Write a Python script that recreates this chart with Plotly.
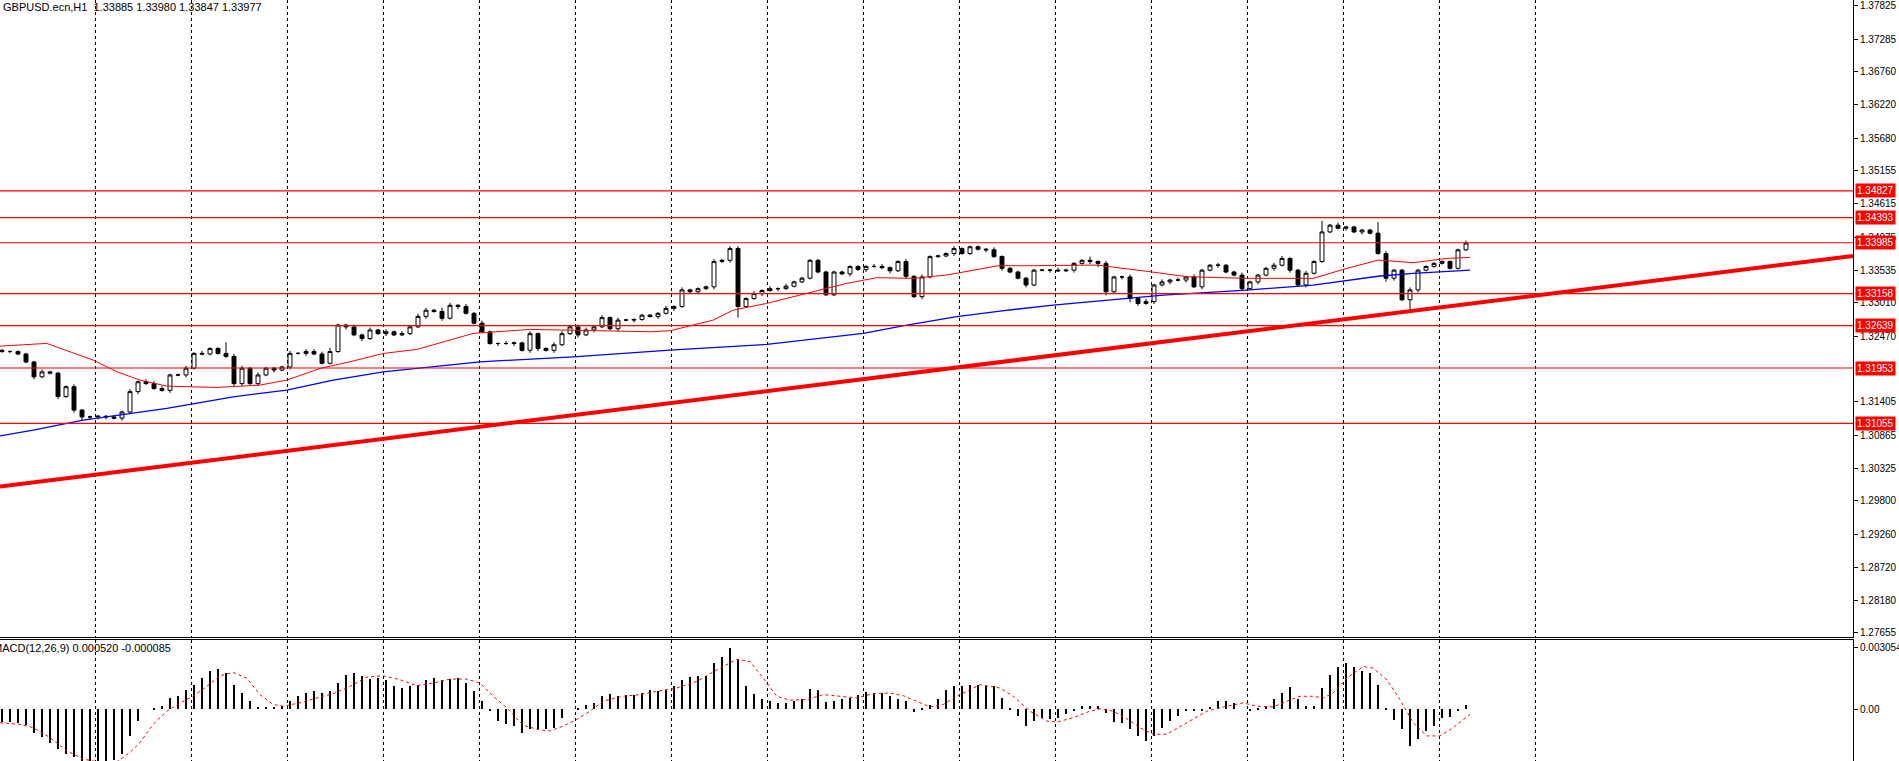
import plotly.graph_objects as go

# 2-hour sampled bars, hour index of each bar = 2*i
closes = [
    1.3222, 1.3222, 1.3218, 1.3205, 1.3181, 1.3189, 1.3187, 1.3149, 1.3165, 1.3127,
    1.3116, 1.3116, 1.3117, 1.3116, 1.3114, 1.3124, 1.3157, 1.3173, 1.3170, 1.3162,
    1.3159, 1.3184, 1.3184, 1.3195, 1.3219, 1.3218, 1.3227, 1.3219, 1.3214, 1.3170,
    1.3195, 1.3170, 1.3184, 1.3195, 1.3192, 1.3197, 1.3219, 1.3219, 1.3222, 1.3218,
    1.3203, 1.3222, 1.3265, 1.3262, 1.3249, 1.3243, 1.3257, 1.3251, 1.3254, 1.3249,
    1.3251, 1.3262, 1.3279, 1.3289, 1.3287, 1.3276, 1.3297, 1.3295, 1.3284, 1.3268,
    1.3254, 1.3235, 1.3235,
    1.3235, 1.3236, 1.3224, 1.3251, 1.3227, 1.3224, 1.3233, 1.3251, 1.3262, 1.3249,
    1.3257, 1.3262, 1.3277, 1.3259, 1.3273, 1.3273, 1.3274, 1.3281, 1.3279, 1.3284,
    1.3292, 1.3295, 1.3322, 1.3319, 1.3324, 1.3327, 1.3368, 1.3370, 1.3389, 1.3295,
    1.3308, 1.3316, 1.3321, 1.3324, 1.3324, 1.3328, 1.3335, 1.3341, 1.3370, 1.3351,
    1.3314, 1.3351, 1.3348, 1.3360, 1.3355, 1.3360, 1.3360, 1.3358, 1.3353, 1.3368,
    1.3344, 1.3311, 1.3343, 1.3376, 1.3377, 1.3381, 1.3389, 1.3381, 1.3392, 1.3388,
    1.3387, 1.3376,
    1.3357, 1.3351, 1.3341, 1.3330, 1.3354, 1.3354, 1.3354, 1.3353, 1.3354, 1.3365,
    1.3370, 1.3368, 1.3365, 1.3319, 1.3343, 1.3343, 1.3308, 1.3300, 1.3303, 1.3330,
    1.3335, 1.3338, 1.3338, 1.3343, 1.3327, 1.3354, 1.3362, 1.3362, 1.3351, 1.3346,
    1.3324, 1.3335, 1.3346, 1.3357, 1.3362, 1.3373, 1.3354, 1.3330, 1.3349, 1.3368,
    1.3416, 1.3427, 1.3422, 1.3424, 1.3416, 1.3419, 1.3414, 1.3381, 1.3341, 1.3354,
    1.3306, 1.3322, 1.3354, 1.3360, 1.3365, 1.3368, 1.3357, 1.3387, 1.3398,
]
first_open = 1.3224
# wick lengths in units of 2 pips
up_wick = ("1111121112" "1111112122" "2112121192" "2121112122" "2311212121"
           "2122132121" "2112112112" "2122121211" "1112121112" "1221212121"
           "1111111112" "2112121112" "1111211111" "1121113121" "1212121212"
           "1121121112" "2112191211" "1192112111" "1112")
dn_wick = ("1111211212" "3222121211" "1212111112" "2121212121" "1112121121"
           "1112121211" "1121212212" "1121211212" "1121211112" "1291121211"
           "1111112121" "1212121112" "1112121121" "1211212331" "2321212121"
           "2121121212" "1212111121" "2113218211" "1111")

ma_red_x = [-0.5, 11.2, 22.8, 28.7, 34.5, 41.2, 53.7, 64.5, 71.2, 79.5, 87, 95.3, 103.7, 110.3,
            117.8, 132, 142.8, 162, 167, 177.8, 182.8, 191.2, 202.8, 211.2, 218.7, 227.8, 236.2,
            249, 257, 273.7, 287, 296.2, 311.2, 327.8, 336.2, 344.1, 352.8, 361.2, 367]
ma_red_y = [1.32308, 1.32352, 1.32081, 1.31892, 1.31757, 1.31659, 1.31638, 1.31676, 1.31757,
            1.31946, 1.32054, 1.32189, 1.32254, 1.32379, 1.32514, 1.32579, 1.32568, 1.32541,
            1.32557, 1.32730, 1.32893, 1.33001, 1.33190, 1.33326, 1.33418, 1.33407, 1.33461,
            1.33612, 1.33612, 1.33623, 1.33515, 1.33434, 1.33407, 1.33407, 1.33569, 1.33704,
            1.33661, 1.33731, 1.33747]
ma_blue_x = [-0.5, 7.8, 20.3, 41.2, 57.8, 71.2, 82.8, 95.3, 103.7, 119.5, 142.8, 167, 191.2,
             215.3, 226.2, 238.7, 249.5, 262.8, 290.3, 311.2, 327.8, 344.5, 352.8, 367]
ma_blue_y = [1.30853, 1.30945, 1.31108, 1.31297, 1.31486, 1.31594, 1.31757, 1.31892, 1.31946,
             1.32054, 1.32135, 1.32244, 1.32336, 1.32514, 1.32649, 1.32785, 1.32877, 1.32974,
             1.33136, 1.33217, 1.33298, 1.33445, 1.33488, 1.33542]

trend_x = [-0.5, 462.75]
trend_y = [1.3003, 1.3377]
levels = [1.34827, 1.34393, 1.33985, 1.33158, 1.32639, 1.31953, 1.31055]
price_ticks = [1.37825, 1.37285, 1.36760, 1.36220, 1.35680, 1.35155, 1.34615, 1.34075,
               1.33535, 1.33010, 1.32470, 1.31405, 1.30865, 1.30325, 1.29800, 1.29260,
               1.28720, 1.28180, 1.27655]
# day separators (hour index)
day_lines = [23.25 + 24 * k for k in range(16)]

# MACD histogram, units of 1e-5
macd_hist = [
    -61, -61, -68, -78, -113, -137, -162, -194, -218, -234, -267, -267, -267, -267, -246, -218,
    -129, -57, 0, 8, 16, 57, 65, 97, 121, 154, 186, 197, 178, 121, 81, 40, 13, 11, 11, 16, 40,
    65, 81, 89, 81, 89, 129, 170, 181, 162, 149, 154, 146, 113, 105, 113, 121, 146, 154, 142,
    149, 154, 129, 89, 40, -8, -57,
    -73, -81, -113, -97, -97, -97, -89, -40, 0, 8, 24, 32, 65, 78, 65, 73, 73, 81, 94, 89, 94,
    113, 146, 158, 165, 165, 226, 259, 299, 243, 116, 78, 52, 40, 32, 32, 40, 49, 100, 94, 36,
    40, 49, 57, 73, 84, 81, 81, 65, 52, 40, -13, 3, 24, 49, 97, 113, 113, 121, 121, 113,
    113, 57, 3, -32, -81, -57, -40, -45, -40, -24, -3, 16, 16, 16, -19, -61, -65, -97, -129,
    -154, -129, -89, -57, -32, -3, -3, -8, 13, 40, 40, 32, 0, -3, 3, 16, 52, 81, 110, 49, 16,
    16, 105, 170, 210, 226, 210, 186, 178, 121, 8, -49, -97, -178, -146, -105, -81, -40, -36,
    -8, 24,
]
signal_x = [-0.5, 4.5, 7.8, 12, 16.2, 20.3, 24.5, 28.7, 32, 34.5, 37.8, 41.2, 44.5, 47.8, 51.2,
            54.5, 57.8, 61.2, 64.5, 67.8, 70.3, 74.5, 78.7, 82.8, 87, 91.2, 95.3, 99.5, 103.7,
            107.8, 112, 116.2, 119.5, 122.8, 126.2, 130.3, 134.5, 137, 140.3, 143.7, 147, 150.3,
            155.3, 159.5, 163.7, 168.7, 173.7, 178.7, 183.7, 187, 190.3, 193.7, 197, 201.2,
            205.3, 209.5, 213.7, 217.8, 222, 225.3, 228.7, 232, 235.3, 238.7, 242.8, 244.5,
            249.5, 252.8, 257, 261.2, 263.7, 267.8, 272, 274.5, 277.8, 281.2, 284.5, 287.8,
            291.2, 296.2, 301.2, 306.2, 310.3, 313.7, 317.8, 321.2, 324.5, 327.8, 330.3, 332.8,
            336.2, 340.3, 342.8, 346.2, 349.5, 352.8, 356.2, 359.5, 362.8, 367]
signal_y = [-64.7, -72.8, -88.9, -137.4, -202, -242.6, -258.7, -255.5, -210.2, -161.7, -72.8,
            -8.1, 32.3, 64.7, 113.2, 164.9, 181.1, 153.6, 72.8, 24.3, 16.2, 32.3, 56.6, 77.6,
            113.2, 158.5, 164.9, 145.5, 116.4, 129.4, 148.8, 148.8, 129.4, 64.7, 8.1, -77.6,
            -100.3, -105.1, -80.9, -48.5, -8.1, 40.4, 64.7, 72.8, 88.9, 105.1, 137.4, 194,
            245.8, 234.5, 153.6, 64.7, 45.3, 48.5, 72.8, 64.7, 56.6, 77.6, 80.9, 67.9, 40.4,
            12.9, 24.3, 64.7, 105.1, 121.3, 105.1, 64.7, -8.1, -56.6, -61.4, -40.4, -8.1, 3.2,
            -8.1, -45.3, -88.9, -121.3, -121.3, -64.7, -8.1, 16.2, 32.3, 16.2, 12.9, 40.4,
            64.7, 64.7, 56.6, 80.9, 153.6, 210.2, 202.1, 145.5, 48.5, -64.7, -129.4, -129.4,
            -88.9, -24.3]

hours = [2 * i for i in range(len(closes))]
opens = [first_open] + closes[:-1]
highs = [max(o, c) + int(w) * 0.0002 for o, c, w in zip(opens, closes, up_wick)]
lows = [min(o, c) - int(w) * 0.0002 for o, c, w in zip(opens, closes, dn_wick)]

FONT = "Liberation Sans"
W, H = 1899, 761
fig = go.Figure()

fig.add_trace(go.Candlestick(
    x=hours, open=opens, high=highs, low=lows, close=closes,
    increasing=dict(line=dict(color="black", width=1), fillcolor="white"),
    decreasing=dict(line=dict(color="black", width=1), fillcolor="black"),
    whiskerwidth=0, xaxis="x", yaxis="y", showlegend=False, hoverinfo="skip"))
fig.add_trace(go.Scatter(x=ma_red_x, y=ma_red_y, mode="lines", line=dict(color="red", width=1),
                         xaxis="x", yaxis="y", showlegend=False))
fig.add_trace(go.Scatter(x=ma_blue_x, y=ma_blue_y, mode="lines", line=dict(color="blue", width=1.3),
                         xaxis="x", yaxis="y", showlegend=False))
fig.add_trace(go.Scatter(x=trend_x, y=trend_y, mode="lines", line=dict(color="red", width=4),
                         xaxis="x", yaxis="y", showlegend=False))

fig.add_trace(go.Bar(x=hours, y=[v * 1e-5 for v in macd_hist], width=0.45,
                     marker=dict(color="black", line=dict(width=0)),
                     xaxis="x2", yaxis="y2", showlegend=False))
fig.add_trace(go.Scatter(x=signal_x, y=[v * 1e-5 for v in signal_y], mode="lines",
                         line=dict(color="red", width=1, dash="dot"),
                         xaxis="x2", yaxis="y2", showlegend=False))

for lv in levels:
    fig.add_shape(type="line", xref="paper", x0=0, x1=1, yref="y", y0=lv, y1=lv,
                  line=dict(color="red", width=1.2))

annotations = []
for lv in levels:
    annotations.append(dict(x=1, xref="paper", y=lv, yref="y", text=f"{lv:.5f}", showarrow=False,
                            xanchor="left", yanchor="middle", xshift=2, bgcolor="#ff0000",
                            borderpad=1, font=dict(color="white", size=10, family=FONT)))
annotations.append(dict(x=0, xref="paper", y=1, yref="paper", xanchor="left", yanchor="top",
                        text="GBPUSD.ecn,H1&nbsp;&nbsp;1.33885 1.33980 1.33847 1.33977",
                        showarrow=False, xshift=1, yshift=1, font=dict(size=11, color="black", family=FONT)))
annotations.append(dict(x=0, xref="paper", y=0.159, yref="paper", xanchor="left", yanchor="top",
                        text="MACD(12,26,9) 0.000520 -0.000085", showarrow=False, xshift=-9,
                        font=dict(size=11, color="black", family=FONT)))

xgrid = dict(range=[-0.5, 462.75], showgrid=True, gridcolor="black", griddash="3px,3px", gridwidth=1,
             tickvals=day_lines, showticklabels=False, ticks="", zeroline=False,
             rangeslider=dict(visible=False), fixedrange=True, automargin=False)
ycommon = dict(side="right", ticks="outside", ticklen=4, tickcolor="black", showgrid=False,
               zeroline=False, showline=True, linecolor="black", linewidth=1, automargin=False,
               tickfont=dict(size=10, family=FONT))

fig.update_layout(
    width=W, height=H, margin=dict(l=0, r=46, t=0, b=0, autoexpand=False),
    paper_bgcolor="white", plot_bgcolor="white", bargap=0,
    font=dict(family=FONT, size=11, color="black"),
    xaxis=dict(**xgrid, domain=[0, 1], anchor="y", showline=True, linecolor="black", linewidth=1),
    xaxis2=dict(**xgrid, domain=[0, 1], anchor="y2", matches="x", side="top",
                showline=True, linecolor="black", linewidth=1),
    yaxis=dict(**ycommon, domain=[1 - 637 / 761, 1], range=[1.27590, 1.37922],
               tickvals=price_ticks, ticktext=[f"{t:.5f}" for t in price_ticks]),
    yaxis2=dict(**ycommon, domain=[0, 1 - 640 / 761], range=[-0.00252, 0.00340],
                tickvals=[0.003054, 0], ticktext=["0.003054", "0.00"]),
    annotations=annotations,
)

fig.write_html("out.html", config={"displayModeBar": False},
               post_script="document.body.style.margin='0';document.body.style.overflow='hidden';")
